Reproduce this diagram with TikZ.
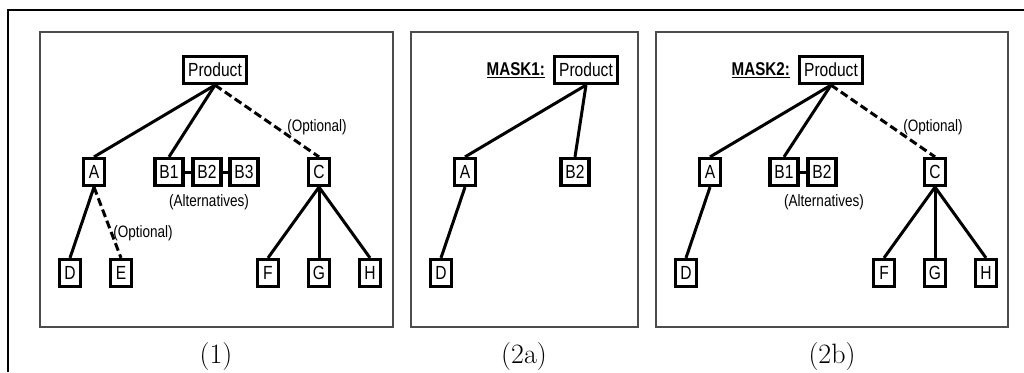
\documentclass[tikz,border=0pt]{standalone}
\usepackage{fontspec}
\usepackage{tikz}
\usetikzlibrary{positioning}
\newfontfamily\boxfont[FakeStretch=0.82]{Liberation Sans}

\begin{document}
\begin{tikzpicture}[x=1pt, y=-1pt,
  feat/.style={draw, line width=3.2pt, fill=white, minimum height=27pt, minimum width=21pt,
    inner xsep=4.5pt, inner ysep=0pt, font=\boxfont\fontsize{19pt}{21pt}\selectfont},
  edge/.style={line width=3pt},
  opt/.style={line width=3pt, dash pattern=on 8pt off 4pt},
  note/.style={inner sep=0pt, font=\boxfont\fontsize{16.5pt}{18pt}\selectfont},
  mask/.style={inner sep=1pt, font=\boxfont\bfseries\fontsize{18.5pt}{20pt}\selectfont},
  panel/.style={draw=black!70, line width=1.3pt},
  caption/.style={anchor=base, inner sep=0pt, font=\fontsize{28pt}{30pt}\selectfont}]

\useasboundingbox (0,0) rectangle (1024,372);

\draw[line width=2.2pt] (8,372) -- (8,10) -- (1024,10);

\draw[panel] (40,32) rectangle (393,327);
\draw[panel] (411,32) rectangle (638,327);
\draw[panel] (656,32) rectangle (1008,327);

% (1)
\node[feat] (P1) at (215,70) {Product};
\node[feat] (A1) at (94,172) {A};
\node[feat] (B11) at (169,172) {B1};
\node[feat] (B21) at (207,172) {B2};
\node[feat] (B31) at (244,172) {B3};
\node[feat] (C1) at (319,172) {C};
\node[feat] (D1) at (70,273) {D};
\node[feat] (E1) at (121,273) {E};
\node[feat] (F1) at (268,273) {F};
\node[feat] (G1) at (319,273) {G};
\node[feat] (H1) at (370,273) {H};

\draw[edge] (P1.south) -- (A1.north);
\draw[edge] (P1.south) -- (B11.north);
\draw[opt] (P1.south) -- (C1.north);
\draw[edge] (B11.east) -- (B21.west);
\draw[edge] (B21.east) -- (B31.west);
\draw[edge] (A1.south) -- (D1.north);
\draw[opt] (A1.south) -- (E1.north);
\draw[edge] (C1.south) -- (F1.north);
\draw[edge] (C1.south) -- (G1.north);
\draw[edge] (C1.south) -- (H1.north);

\node[note] (o11) at (317,127) {(Optional)};
\node[note] (o12) at (143,233) {(Optional)};
\node[note] (alt1) at (209,202) {(Alternatives)};
\node[caption] (cap1) at (216,363) {(1)};

% (2a)
\node[feat] (P2a) at (586,70) {Product};
\node[mask, left=7pt of P2a] (m1) {\underline{MASK1:}};
\node[feat] (A2a) at (465,172) {A};
\node[feat] (B22a) at (575,172) {B2};
\node[feat] (D2a) at (441,273) {D};

\draw[edge] (P2a.south) -- (A2a.north);
\draw[edge] (P2a.south) -- (B22a.north);
\draw[edge] (A2a.south) -- (D2a.north);

\node[caption] (cap2a) at (524,363) {(2a)};

% (2b)
\node[feat] (P2b) at (831,70) {Product};
\node[mask, left=7pt of P2b] (m2) {\underline{MASK2:}};
\node[feat] (A2b) at (710,172) {A};
\node[feat] (B12b) at (784,172) {B1};
\node[feat] (B22b) at (822,172) {B2};
\node[feat] (C2b) at (935,172) {C};
\node[feat] (D2b) at (686,273) {D};
\node[feat] (F2b) at (884,273) {F};
\node[feat] (G2b) at (935,273) {G};
\node[feat] (H2b) at (986,273) {H};

\draw[edge] (P2b.south) -- (A2b.north);
\draw[edge] (P2b.south) -- (B12b.north);
\draw[opt] (P2b.south) -- (C2b.north);
\draw[edge] (B12b.east) -- (B22b.west);
\draw[edge] (A2b.south) -- (D2b.north);
\draw[edge] (C2b.south) -- (F2b.north);
\draw[edge] (C2b.south) -- (G2b.north);
\draw[edge] (C2b.south) -- (H2b.north);

\node[note] (o2b) at (933,127) {(Optional)};
\node[note] (alt2b) at (824,202) {(Alternatives)};
\node[caption] (cap2b) at (832,363) {(2b)};

\end{tikzpicture}
\end{document}
